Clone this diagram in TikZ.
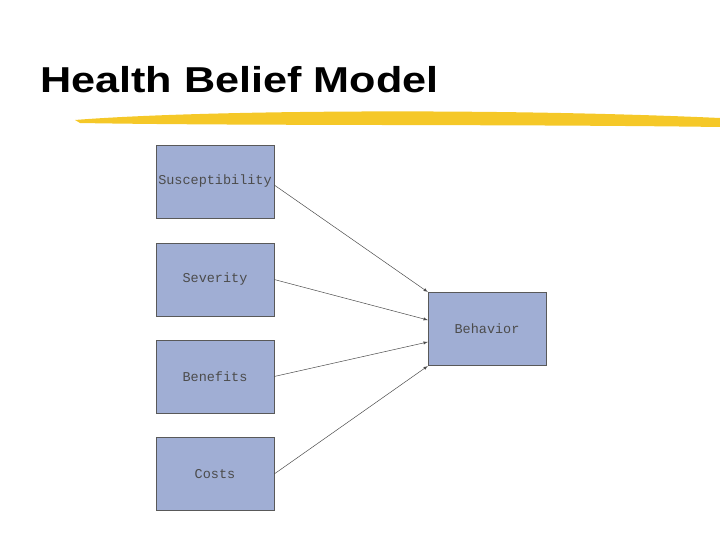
\documentclass[tikz,border=0pt]{standalone}
\usepackage{fontspec}
\setmainfont{Liberation Sans}
\setmonofont{Liberation Mono}
\definecolor{boxfill}{RGB}{160,174,212}
\definecolor{brush}{RGB}{245,200,40}
\begin{document}
\begin{tikzpicture}[x=1pt,y=-1pt,
  box/.style={draw=gray!70!black,fill=boxfill,minimum width=118pt,minimum height=73pt,inner sep=0pt,font=\ttfamily\fontsize{13.5}{15}\selectfont,text=black!70},
  arr/.style={draw=black!70,line width=0.5pt,-latex}]
\useasboundingbox (0,0) rectangle (720,540);
\node[anchor=west,inner sep=0pt,font=\bfseries\fontsize{36}{40}\selectfont,xscale=1.2] (title) at (40,80) {Health Belief Model};
\fill[brush] (75,120) .. controls (200,110) and (500,108) .. (720,118) -- (720,127) .. controls (500,124) and (250,126) .. (80,123) -- cycle;
\node[box] (a) at (215,181.5) {Susceptibility};
\node[box] (b) at (215,279.5) {Severity};
\node[box] (c) at (215,376.5) {Benefits};
\node[box] (d) at (215,474) {Costs};
\node[box] (e) at (487,329) {Behavior};
\draw[arr] (a.east|-0,185) -- (e.west|-0,292);
\draw[arr] (b.east) -- (e.west|-0,320);
\draw[arr] (c.east) -- (e.west|-0,342);
\draw[arr] (d.east) -- (e.west|-0,366);
\end{tikzpicture}
\end{document}
